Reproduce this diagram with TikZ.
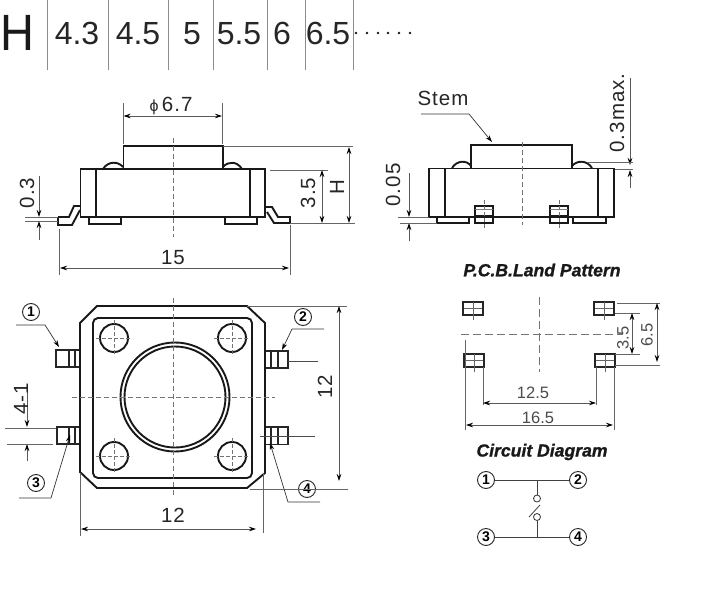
\documentclass[tikz,border=0pt]{standalone}
\usepackage{fontspec}
\setmainfont{Liberation Sans}
\usetikzlibrary{arrows.meta}
\tikzset{
  ol/.style={draw=black!90,line width=1.9pt,line join=miter},
  thin ol/.style={draw=black!85,line width=1.3pt},
  cl/.style={draw=black!55,line width=.7pt,dash pattern=on 5pt off 3pt},
  ext/.style={draw=black!60,line width=.7pt},
  lead/.style={draw=black!70,line width=.7pt},
  arr/.style={draw=black!65,line width=.7pt,-{Stealth[length=7pt,width=4.5pt,black]}},
  darr/.style={draw=black!65,line width=.7pt,{Stealth[length=7pt,width=4.5pt,black]}-{Stealth[length=7pt,width=4.5pt,black]}},
  hdr/.style={inner sep=0pt,text=black!85,font=\fontsize{32}{32}\selectfont},
  hline/.style={draw=black!45,line width=.8pt},
  dimt/.style={inner sep=0pt,text=black!85,font=\fontsize{20.5}{20.5}\selectfont\addfontfeature{LetterSpace=5}},
  dimg/.style={inner sep=0pt,text=black!70,font=\fontsize{16.5}{17}\selectfont},
  num/.style={circle,draw=black!85,line width=.9pt,minimum size=17pt,inner sep=0pt,font=\fontsize{14}{14}\selectfont\bfseries},
  ttl/.style={inner sep=0pt,text=black!90,font=\fontsize{17.6}{18}\selectfont\bfseries\itshape\addfontfeature{FakeBold=1}},
  term/.style={circle,draw=black!80,line width=.8pt,minimum size=7pt,inner sep=0pt},
  wire/.style={draw=black!75,line width=.8pt}
}
\begin{document}
\begin{tikzpicture}[x=1pt,y=-1pt]
\useasboundingbox (0,0) rectangle (714,591);
\fill[white] (0,0) rectangle (714,591);
% ---------- header
\node[inner sep=0pt,text=black!90,font=\fontsize{51}{51}\selectfont,anchor=base,xscale=.92] (hH) at (17,51) {H};
\foreach \x/\n/\t in {77/a/4.3,138/b/4.5,192/c/5,239/d/5.5,282/e/6,328/f/6.5}
  \node[hdr,anchor=base] (h\n) at (\x,44.5) {\t};
\foreach \x in {47,108,168,213,267,305,353}
  \draw[hline] (\x,0) -- (\x,70);
\foreach \x in {356,367,378,388,399,410}
  \fill[black!90] (\x,33) circle (1.3pt);
% ---------- side view left
\draw[ol] (58,217) -- (69,217) -- (74,206) -- (80,206);
\draw[ol] (58,217) -- (58,225) -- (72,225) -- (80,210);
\draw[ol] (265,207) -- (272,207) -- (278,217) -- (290,217) -- (290,223) -- (274,223) -- (267,212);
\draw[ol] (103,169) .. controls (108,161) and (118,161) .. (123,167);
\draw[ol] (223,167) .. controls (228,161) and (237,161) .. (242,169);
\draw[ol] (123.5,169) -- (123.5,146) -- (223,146) -- (223,169);
\draw[ol] (80.5,169) rectangle (265,217);
\draw[ol] (96,169) -- (96,217) (250,169) -- (250,217);
\draw[ol] (89,217) rectangle (121,224);
\draw[ol] (225,217) rectangle (257,224);
\draw[cl] (173,138) -- (173,237);
% dims
\draw[ext] (123.5,103) -- (123.5,144) (222,103) -- (222,144);
\draw[darr] (123.5,116) -- (222,116);
\node[dimt,anchor=center] (tphi) at (171,106) {{\fontsize{16}{16}\selectfont ϕ}\,6.7};
\draw[ext] (223,146) -- (353,146) (290,223) -- (355,223) (270,170) -- (328,170);
\draw[darr] (349,147) -- (349,223);
\draw[darr] (322,170) -- (322,223);
\node[dimt,rotate=90] (tH) at (337,187) {H};
\node[dimt,rotate=90] (t35a) at (308,193) {3.5};
\draw[arr] (39,176) -- (39,217);
\draw[arr] (39,240) -- (39,221);
\draw[ext] (25,217) -- (58,217) (25,221) -- (58,221);
\node[dimt,rotate=90] (t03) at (27,193) {0.3};
\draw[ext] (59,229) -- (59,275) (290,225) -- (290,275);
\draw[darr] (60,268) -- (289,268);
\node[dimt] (t15) at (173,258) {15};
% ---------- side view right
\draw[ol] (452,168) .. controls (457,160) and (467,160) .. (471,166);
\draw[ol] (572,166) .. controls (577,160) and (587,160) .. (592,168);
\draw[ol] (471,169) -- (471,145) -- (572,145) -- (572,169);
\draw[ol] (429,168.5) rectangle (614,217);
\draw[ol] (445,169) -- (445,217) (598,169) -- (598,217);
\draw[ol] (437,217) rectangle (469,223);
\draw[ol] (573,217) rectangle (606,223);
\draw[ol] (475,206) rectangle (493,223);
\draw[ol] (550,206) rectangle (568,223);
\draw[draw=black!50,line width=1.6pt] (475,209.5) -- (493,209.5) (550,209.5) -- (568,209.5);
\draw[ol] (475,216) -- (493,216) (550,216) -- (568,216);
\draw[cl,dash pattern=on 4pt off 2pt] (484,200) -- (484,230) (559,200) -- (559,230);
\draw[cl] (522,142) -- (522,225);
\node[dimt] (tstem) at (443,98) {Stem};
\draw[arr,draw=black!80] (421,114) -- (469,114) -- (492,142);
\draw[arr] (630,78) -- (630,165);
\draw[arr] (630,188) -- (630,170);
\draw[ext] (587,162) -- (633,162) (615,169) -- (633,169);
\node[dimt,rotate=90] (tmax) at (617,113) {0.3max.};
\draw[arr] (409,173) -- (409,217);
\draw[arr] (409,241) -- (409,223);
\draw[ext] (398,217) -- (429,217) (400,223) -- (437,223);
\node[dimt,rotate=90] (t005) at (393,185) {0.05};
% ---------- top view
\draw[thin ol] (56,350) rectangle (81,367);
\draw[thin ol] (69,350) -- (69,367) (75,350) -- (75,367);
\draw[thin ol] (57,427) rectangle (81,444);
\draw[thin ol] (69,427) -- (69,444) (75,427) -- (75,444);
\draw[thin ol] (264,351) rectangle (288,368);
\draw[thin ol] (271,351) -- (271,368) (278,351) -- (278,368);
\draw[thin ol] (265,427) rectangle (288,444.5);
\draw[thin ol] (271,427) -- (271,444.5) (278,427) -- (278,444.5);
\draw[ol,fill=white] (97,306) -- (247,306) -- (265,323) -- (265,473) -- (247,488) -- (97,488) -- (80,472) -- (80,323) -- cycle;
\draw[ol,rounded corners=5pt] (93,318) rectangle (252,478);
\draw[ol] (175,397) circle (54.5pt);
\draw[ol] (175,397) circle (50.5pt);
\foreach \x/\y in {114/338,232/338,114/456,232/456}{
  \draw[ol] (\x,\y) circle (14pt);
  \draw[cl,dash pattern=on 4pt off 2pt] (\x-18,\y) -- (\x+18,\y) (\x,\y-18) -- (\x,\y+18);
}
\draw[cl] (173,298) -- (173,497) (72,397) -- (275,397);
% labels
\node[num] (p1) at (31,312) {1};
\node[num] (p2) at (303,317) {2};
\node[num] (p3) at (36,483) {3};
\node[num] (p4) at (307,489) {4};
\draw[arr,draw=black!80] (16,325) -- (45,325) -- (59,347);
\draw[arr,draw=black!80] (324,329) -- (292,329) -- (282,350);
\draw[lead] (288,361) -- (318,361);
\draw[arr,draw=black!80] (19,498) -- (51,498) -- (70,435);
\draw[arr,draw=black!80] (320,502) -- (288,502) -- (270,443);
\draw[lead] (260,436) -- (315,436);
% dims
\draw[arr] (27,385) -- (27,427);
\draw[arr] (27,461) -- (27,444);
\draw[ext] (5,428) -- (56,428) (7,444) -- (53,444);
\node[dimt,rotate=90] (t41) at (21,399) {4-1};
\draw[ext] (247,306) -- (347,306) (250,489) -- (348,489);
\draw[darr] (339,306) -- (339,481);
\node[dimt,rotate=90] (t12r) at (325,387) {12};
\draw[ext] (80,473) -- (80,536) (263,473) -- (263,533);
\draw[darr] (81,529) -- (256,529);
\node[dimt] (t12b) at (173,515) {12};
% ---------- land pattern
\node[ttl] (tland) at (542,270) {P.C.B.Land Pattern};
\draw[ol,draw=black!85] (463,302) rectangle (483,315);
\draw[ol,draw=black!85] (594,302) rectangle (614,315);
\draw[ol,draw=black!85] (464,354) rectangle (484,367);
\draw[ol,draw=black!85] (595,354) rectangle (615,367);
\foreach \x/\y in {473/308,604/308,474/360,605/360}
  \draw[black!60,line width=.7pt] (\x-9,\y) -- (\x+9,\y) (\x,\y-6) -- (\x,\y+12);
\draw[cl,line width=.8pt,dash pattern=on 8pt off 4pt] (539,297) -- (539,372) (461,334) -- (623,334);
\draw[ext] (617,303) -- (660,303) (615,365) -- (660,365) (615,313) -- (640,313) (615,354) -- (640,354);
\draw[darr] (657,303) -- (657,362);
\draw[darr] (632,313) -- (632,354);
\node[dimg,rotate=90] (t65) at (647,335) {6.5};
\node[dimg,rotate=90] (t35b) at (623,338) {3.5};
\draw[ext] (483,367) -- (483,405) (596,367) -- (596,405) (465,340) -- (465,430) (614,367) -- (614,430);
\draw[darr] (483,403) -- (596,403);
\draw[darr] (466,425) -- (613,425);
\node[dimg] (t125) at (533,393) {12.5};
\node[dimg] (t165) at (538,418) {16.5};
% ---------- circuit
\node[ttl] (tcirc) at (542,452) {Circuit Diagram};
\node[num] (c1) at (486,480) {1};
\node[num] (c2) at (578,480) {2};
\node[num] (c3) at (486,537) {3};
\node[num] (c4) at (578,537) {4};
\node[term] (ta) at (537,498.5) {};
\node[term] (tb) at (537,517) {};
\draw[wire] (c1) -- (c2);
\draw[wire] (c3) -- (c4);
\draw[wire] (537,480) -- (ta);
\draw[wire] (tb) -- (537,537);
\draw[wire] (529,517) -- (540,505);
\end{tikzpicture}
\end{document}
